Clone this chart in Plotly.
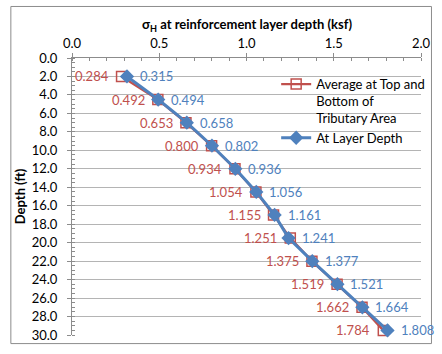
import plotly.graph_objects as go

# Depth of each reinforcement layer (ft)
depth = [2.0, 4.5, 7.0, 9.5, 12.0, 14.5, 17.0, 19.5, 22.0, 24.5, 27.0, 29.5]

# Horizontal stress (ksf): average over tributary area vs. at layer depth
sigma_avg = [0.284, 0.492, 0.653, 0.800, 0.934, 1.054, 1.155, 1.251, 1.375, 1.519, 1.662, 1.784]
sigma_layer = [0.315, 0.494, 0.658, 0.802, 0.936, 1.056, 1.161, 1.241, 1.377, 1.521, 1.664, 1.808]

x_ticks = [0.0, 0.5, 1.0, 1.5, 2.0]
y_ticks = [0, 2, 4, 6, 8, 10, 12, 14, 16, 18, 20, 22, 24, 26, 28, 30]

RED = "#C0504D"
BLUE = "#4F81BD"
FONT = "Lato"

fig = go.Figure()

fig.add_trace(go.Scatter(
    x=sigma_avg, y=depth,
    mode="lines+markers",
    name="Average at Top and<br>Bottom of<br>Tributary Area",
    line=dict(color=RED, width=2.25),
    marker=dict(symbol="square-open", size=10, color=RED, line=dict(width=1.5, color=RED)),
    cliponaxis=False,
))

fig.add_trace(go.Scatter(
    x=sigma_layer, y=depth,
    mode="lines+markers",
    name="At Layer Depth",
    line=dict(color=BLUE, width=3),
    marker=dict(symbol="diamond", size=11, color=BLUE),
    cliponaxis=False,
))

# value labels: averages to the left, layer values to the right
annotations = []
for v, d in zip(sigma_avg, depth):
    annotations.append(dict(x=v, y=d, xref="x", yref="y", text=f"{v:.3f}",
                            showarrow=False, xanchor="right", yanchor="middle",
                            xshift=-11, font=dict(color=RED, size=13, family=FONT)))
for v, d in zip(sigma_layer, depth):
    annotations.append(dict(x=v, y=d, xref="x", yref="y", text=f"{v:.3f}",
                            showarrow=False, xanchor="left", yanchor="middle",
                            xshift=11, font=dict(color=BLUE, size=13, family=FONT)))

# horizontal-axis title above the top tick labels
annotations.append(dict(x=0.5, y=1.08, xref="paper", yref="paper",
                        text="<b>σ<sub>H</sub> at reinforcement layer depth (ksf)</b>",
                        showarrow=False, xanchor="center", yanchor="bottom",
                        font=dict(size=13, family=FONT, color="#000000")))

# chart-area frame
fig.add_shape(type="rect", xref="paper", yref="paper",
              x0=-0.1752, x1=1.03, y0=-0.031, y1=1.186,
              line=dict(color="#8C8C8C", width=1), layer="below")

fig.update_layout(
    width=442, height=354,
    margin=dict(l=71.5, r=11, t=58, b=11),
    paper_bgcolor="white", plot_bgcolor="white",
    font=dict(family=FONT, size=13, color="#000000"),
    showlegend=True,
    annotations=annotations,
    legend=dict(x=0.585, y=0.96, xanchor="left", yanchor="top",
                bgcolor="rgba(0,0,0,0)", valign="top",
                font=dict(size=13, family=FONT, color="#000000"),
                tracegroupgap=4),
    xaxis=dict(
        side="top", range=[0, 2.0], tickvals=x_ticks,
        ticktext=[f"{v:.1f}" for v in x_ticks],
        showgrid=False, zeroline=False,
        showline=True, linecolor="#8C8C8C", linewidth=1,
        ticks="outside", ticklen=4, tickcolor="#8C8C8C",
        ticklabelstandoff=0,
        minor=dict(dtick=0.1, ticks="inside", ticklen=3, tickcolor="#8C8C8C", showgrid=False),
    ),
    yaxis=dict(
        range=[30, 0], tickvals=y_ticks,
        ticktext=[f"{v:.1f}" for v in y_ticks],
        showgrid=True, gridcolor="#B4B4B4", gridwidth=1, zeroline=False,
        showline=True, linecolor="#8C8C8C", linewidth=1,
        ticks="outside", ticklen=4, tickcolor="#8C8C8C",
        ticklabelstandoff=7,
        minor=dict(dtick=0.5, ticks="inside", ticklen=3, tickcolor="#8C8C8C", showgrid=False),
        title=dict(text="<b>Depth (ft)</b>", font=dict(size=13, family=FONT), standoff=3),
    ),
)

fig.write_html("out.html")
